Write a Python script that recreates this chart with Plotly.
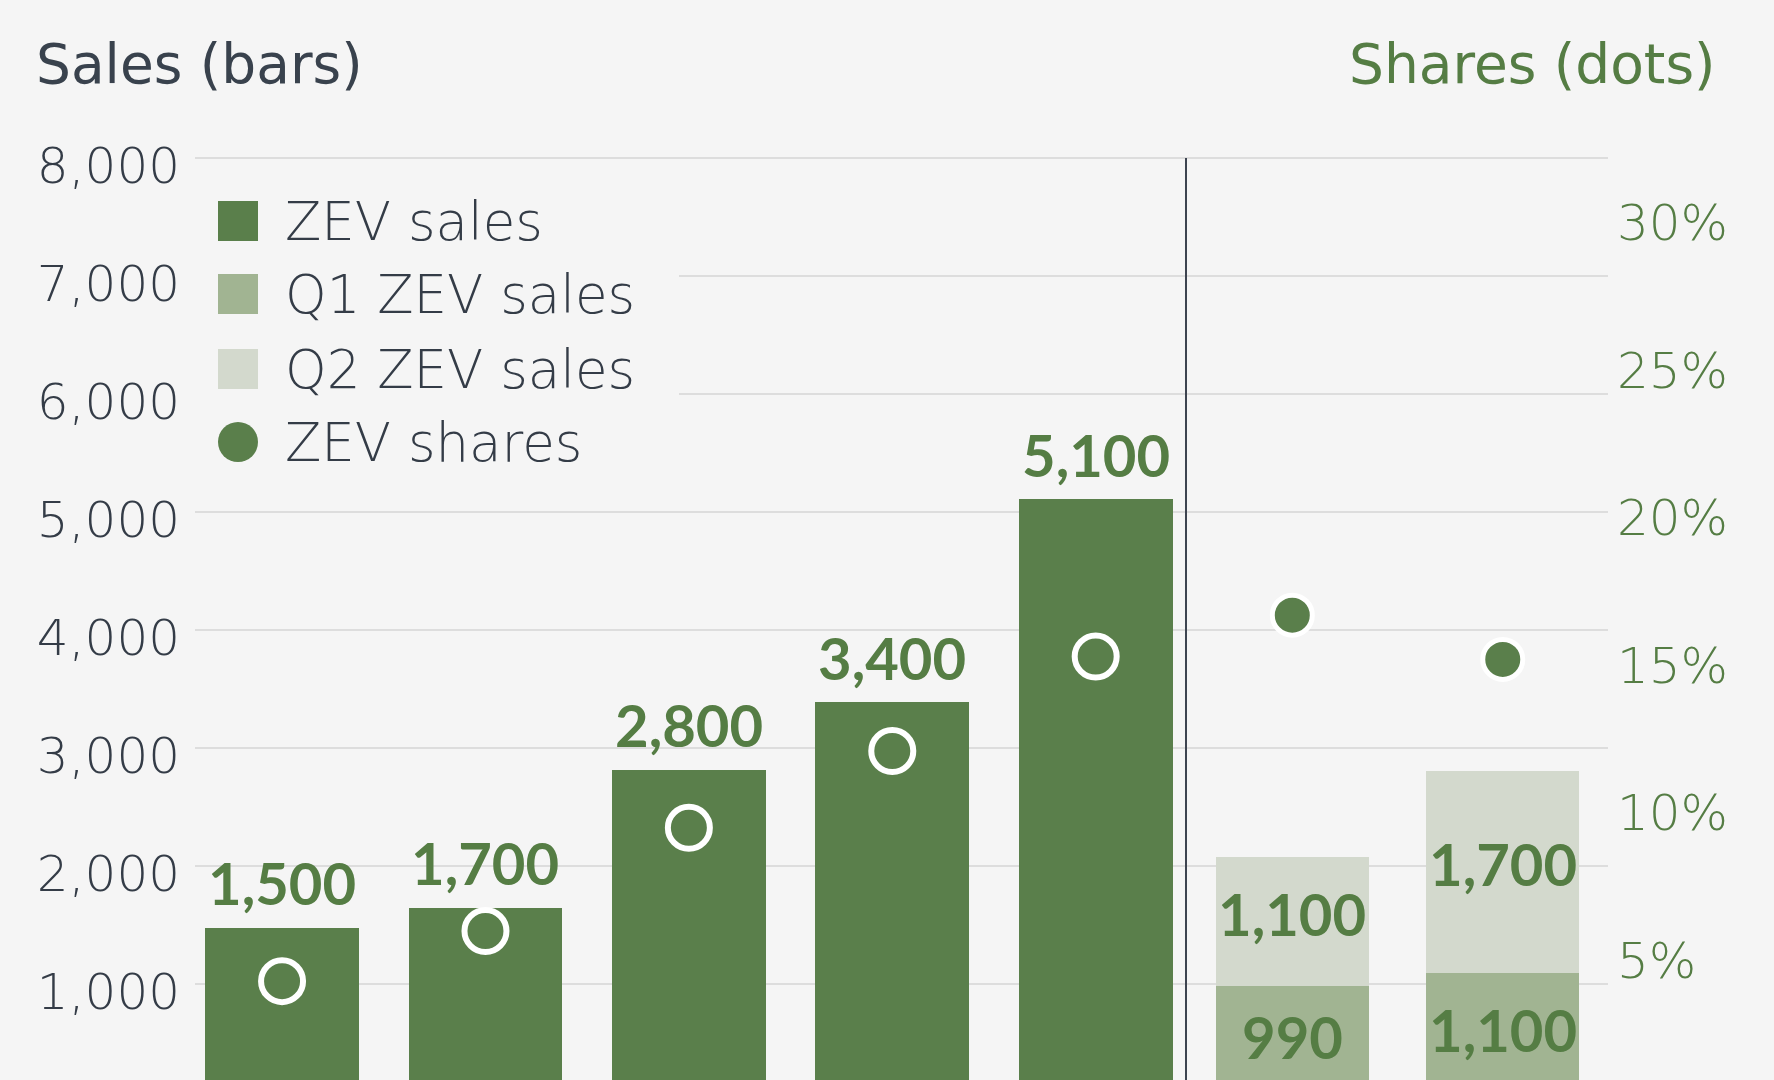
import plotly.graph_objects as go

# ---------------- data ----------------
years = ["2019", "2020", "2021", "2022", "2023"]
zev_sales = [1480, 1650, 2820, 3390, 5110]
zev_sales_labels = ["1,500", "1,700", "2,800", "3,400", "5,100"]
zev_shares = [4.3, 6.0, 9.5, 12.1, 15.3]

recent_periods = ["2024 H1", "2025 H1"]
q1_sales = [985, 1095]
q1_labels = ["990", "1,100"]
q2_sales = [1095, 1715]
q2_labels = ["1,100", "1,700"]
recent_shares = [16.7, 15.2]

sales_ticks = [1000, 2000, 3000, 4000, 5000, 6000, 7000, 8000]
share_ticks = [5, 10, 15, 20, 25, 30]
share_tick_labels = ["5%", "10%", "15%", "20%", "25%", "30%"]

legend_names = ["ZEV sales", "Q1 ZEV sales", "Q2 ZEV sales", "ZEV shares"]

# ---------------- style ----------------
BG = "#f5f5f5"
GREEN = "#5a7f4b"
GREEN_TXT = "#557d44"
Q1C = "#a1b492"
Q2C = "#d3d9cd"
DARK = "#343c47"
GRID = "#dddddd"
LIGHT_FONT = "DejaVu Sans"
BOLD_FONT = "Lato"

W, H = 1774, 1080
ML, MR, MT, MB = 195, 166, 156, 0
PW, PH = W - ML - MR, H - MT - MB
SPLIT = (1186 - ML) / PW


def px_x(px):
    return (px - ML) / PW


def px_y(py):
    return (H - MB - py) / PH


label_font = dict(family=BOLD_FONT, size=58, color=GREEN_TXT, weight=700)

fig = go.Figure()

fig.add_trace(go.Bar(
    x=years, y=zev_sales, xaxis="x", yaxis="y", name=legend_names[0],
    marker=dict(color=GREEN, line=dict(width=0)), width=0.756,
    showlegend=False,
))
fig.add_trace(go.Bar(
    x=recent_periods, y=q1_sales, xaxis="x2", yaxis="y", name=legend_names[1],
    marker=dict(color=Q1C, line=dict(width=0)), width=0.729,
    showlegend=False,
))
fig.add_trace(go.Bar(
    x=recent_periods, y=q2_sales, xaxis="x2", yaxis="y", name=legend_names[2],
    marker=dict(color=Q2C, line=dict(width=0)), width=0.729,
    showlegend=False,
))
fig.add_trace(go.Scatter(
    x=years, y=zev_shares, xaxis="x", yaxis="y2", mode="markers",
    name=legend_names[3],
    marker=dict(color=GREEN, size=42, line=dict(color="white", width=6)),
    showlegend=False, cliponaxis=False,
))
fig.add_trace(go.Scatter(
    x=recent_periods, y=recent_shares, xaxis="x2", yaxis="y2", mode="markers",
    name=legend_names[3],
    marker=dict(color=GREEN, size=40, line=dict(color="white", width=5)),
    showlegend=False, cliponaxis=False,
))

annotations = []
# value labels above the annual bars (category axes take the category index)
for i, (val, lab) in enumerate(zip(zev_sales, zev_sales_labels)):
    annotations.append(dict(x=i, y=val, xref="x", yref="y", text=lab,
                            showarrow=False, yanchor="middle", yshift=45,
                            font=label_font))
# value labels inside the stacked bars
for i, (a, b, la, lb) in enumerate(zip(q1_sales, q2_sales, q1_labels, q2_labels)):
    annotations.append(dict(x=i, y=a / 2, xref="x2", yref="y", text=la,
                            showarrow=False, yanchor="middle", yshift=8,
                            font=label_font))
    annotations.append(dict(x=i, y=a + b / 2, xref="x2", yref="y", text=lb,
                            showarrow=False, yanchor="middle", yshift=8,
                            font=label_font))

# ---------------- custom legend ----------------
shapes = []
shapes.append(dict(type="rect", xref="paper", yref="paper",
                   x0=px_x(188), x1=px_x(679), y0=px_y(478), y1=px_y(176),
                   fillcolor=BG, line=dict(width=0), layer="above"))
row_y = [221, 294, 369, 442]
sym_colors = [GREEN, Q1C, Q2C, GREEN]
for i, (name, col) in enumerate(zip(legend_names, sym_colors)):
    cy = row_y[i]
    kind = "circle" if i == 3 else "rect"
    shapes.append(dict(type=kind, xref="paper", yref="paper",
                       x0=px_x(218), x1=px_x(258),
                       y0=px_y(cy + 20), y1=px_y(cy - 20),
                       fillcolor=col, line=dict(width=0), layer="above"))
    annotations.append(dict(text=name, xref="paper", yref="paper",
                            x=px_x(283), y=px_y(cy), xanchor="left",
                            yanchor="middle", showarrow=False,
                            font=dict(family=LIGHT_FONT, size=53, color=DARK, weight=200)))

# separator line
shapes.append(dict(type="line", xref="x2 domain", yref="paper",
                   x0=0, x1=0, y0=0, y1=px_y(158),
                   line=dict(color="#3d4450", width=2), layer="above"))

# axis titles
annotations.append(dict(text="Sales (bars)", xref="paper", yref="paper",
                        x=px_x(34), y=px_y(64), xanchor="left", yanchor="middle",
                        showarrow=False,
                        font=dict(family=LIGHT_FONT, size=55, color="#39424d", weight=500)))
annotations.append(dict(text="Shares (dots)", xref="paper", yref="paper",
                        x=px_x(1718), y=px_y(64), xanchor="right", yanchor="middle",
                        showarrow=False,
                        font=dict(family=LIGHT_FONT, size=55, color=GREEN_TXT, weight=500)))

fig.update_layout(
    width=W, height=H,
    margin=dict(l=ML, r=MR, t=MT, b=MB, pad=0),
    paper_bgcolor=BG, plot_bgcolor=BG,
    barmode="stack",
    showlegend=False,
    shapes=shapes,
    annotations=annotations,
    xaxis=dict(type="category", domain=[0, SPLIT], range=[-0.428, 4.444],
               showticklabels=False, showgrid=False, zeroline=False,
               showline=False, ticks=""),
    xaxis2=dict(type="category", domain=[SPLIT, 1], range=[-0.505, 1.5],
                showticklabels=False, showgrid=False, zeroline=False,
                showline=False, ticks="", anchor="y"),
    yaxis=dict(range=[190, 8017], tickvals=sales_ticks, tickformat=",",
               showgrid=True, gridcolor=GRID, gridwidth=2, zeroline=False,
               ticks="", ticklabelstandoff=14, ticklabelshift=7,
               tickfont=dict(family=LIGHT_FONT, size=50, color=DARK, weight=200),
               anchor="x"),
    yaxis2=dict(range=[0.95, 32.26], tickvals=share_ticks, ticktext=share_tick_labels,
                overlaying="y", side="right", anchor="x2", showgrid=False,
                zeroline=False, ticks="", ticklabelstandoff=8,
                tickfont=dict(family=LIGHT_FONT, size=50, color=GREEN_TXT, weight=200)),
)

fig.write_html("out.html")
